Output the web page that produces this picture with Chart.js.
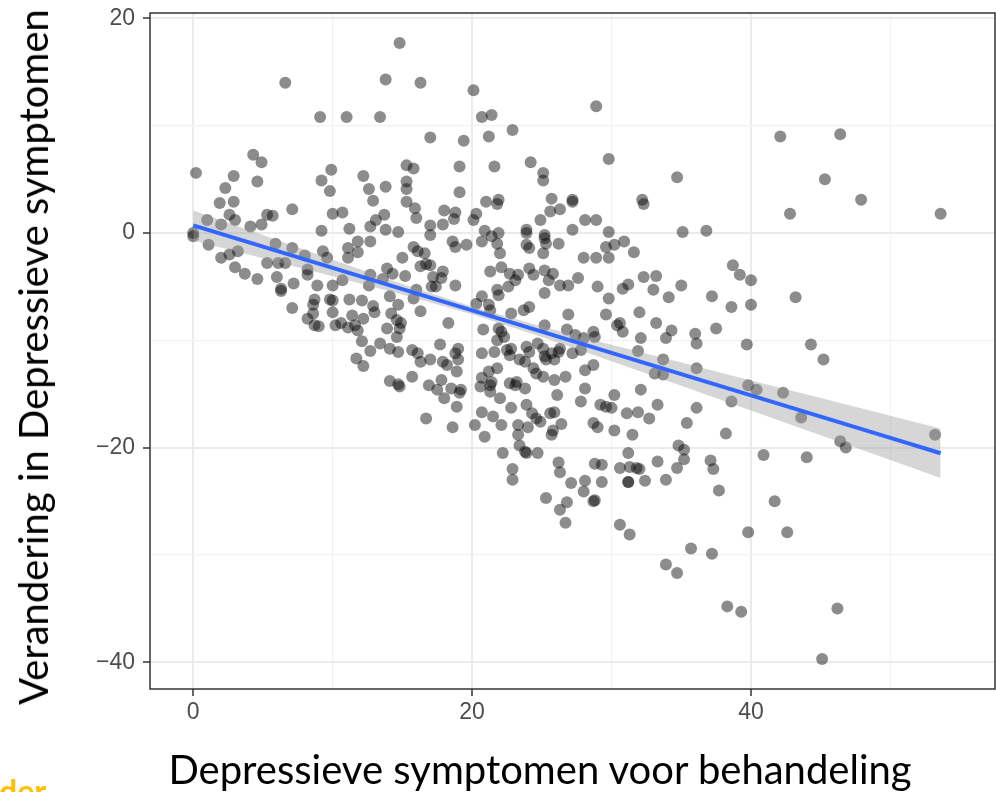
<!DOCTYPE html>
<html lang="nl">
  <head>
    <meta charset="utf-8" />
    <meta name="viewport" content="width=device-width, initial-scale=1" />
    <title>Depressieve symptomen</title>
    <style>
      * {
        margin: 0;
        padding: 0;
      }
      html,
      body {
        width: 996px;
        height: 792px;
        overflow: hidden;
        background: white;
      }
      body {
        position: relative;
        font-family: Lato, "Open Sans", sans-serif;
      }
      .chartBox {
        position: absolute;
        left: 0;
        top: 0;
        width: 996px;
        height: 792px;
      }
      .yTitle {
        position: absolute;
        left: 33px;
        top: 357px;
        transform: translate(-50%, -50%) rotate(-90deg);
        font-size: 40px;
        line-height: 40px;
        white-space: nowrap;
        color: #000;
      }
      .xTitle {
        position: absolute;
        left: 540px;
        top: 749px;
        transform: translateX(-50%);
        font-size: 40px;
        line-height: 40px;
        white-space: nowrap;
        color: #000;
      }
      .tag {
        position: absolute;
        left: -1px;
        top: 775px;
        font-size: 32px;
        line-height: 32px;
        font-weight: bold;
        color: #ffc000;
      }
    </style>
  </head>
  <body>
    <div class="chartBox">
      <canvas id="myChart"></canvas>
    </div>
    <div class="yTitle">Verandering in Depressieve symptomen</div>
    <div class="xTitle">Depressieve symptomen voor behandeling</div>
    <div class="tag">der</div>

    <script src="https://cdn.jsdelivr.net/npm/chart.js@4/dist/chart.umd.min.js"></script>

    <script>
      // data block: score before treatment (x) and change in score (y)
      const preScore = [
        14.8, 6.6, 13.8, 16.3, 9.1, 11.0, 13.4, 17.0, 0.2, 4.3,
        4.9, 2.9, 2.3, 4.6, 1.9, 2.9, 2.6, 1.0, 2.0, 3.0,
        4.1, 4.9, 5.3, 5.7, 7.1, 9.2, 9.9, 9.8, 10.0, 10.7,
        9.2, 11.2, 12.2, 12.6, 13.8, 12.9, 13.7, 13.1, 12.7, 13.8,
        14.7, 15.3, 15.8, 15.3, 15.3, 15.3, 15.9, 16.0, 17.0, 0.0,
        0.0, 20.1, 20.7, 21.4, 19.4, 21.2, 22.9, 28.9, 29.8, 34.7,
        19.1, 21.6, 24.2, 25.1, 25.1, 19.1, 21.0, 21.9, 21.8, 25.7,
        27.2, 27.2, 25.6, 26.3, 32.2, 32.3, 18.0, 18.8, 18.7, 17.9,
        20.3, 20.1, 24.9, 28.1, 28.9, 20.9, 21.9, 23.9, 23.9, 25.2,
        27.2, 29.8, 35.1, 36.8, 42.1, 46.4, 45.3, 47.9, 42.8, 53.6,
        1.1, 2.0, 2.6, 3.2, 3.0, 3.7, 4.6, 5.3, 5.9, 6.1,
        6.6, 6.0, 6.3, 6.3, 7.2, 7.1, 8.0, 8.2, 8.2, 7.1,
        8.9, 9.3, 9.6, 10.0, 8.7, 8.6, 9.8, 10.0, 8.2, 8.6,
        8.7, 9.0, 10.0, 10.2, 10.7, 11.1, 11.8, 11.8, 11.1, 11.2,
        12.1, 11.4, 12.2, 10.6, 11.1, 11.8, 11.6, 12.7, 12.7, 12.6,
        13.6, 13.9, 14.3, 15.2, 12.9, 13.0, 14.1, 14.7, 14.2, 14.6,
        14.9, 14.8, 14.6, 13.9, 12.1, 12.7, 13.4, 14.1, 14.7, 11.7,
        12.2, 15.0, 15.8, 16.1, 16.6, 16.3, 16.7, 17.0, 17.2, 17.4,
        16.0, 15.8, 16.3, 15.7, 16.1, 16.3, 17.0, 14.1, 14.7, 14.8,
        15.7, 16.9, 17.5, 16.7, 18.6, 18.8, 19.6, 20.7, 21.8, 21.4,
        22.0, 23.9, 24.1, 25.1, 25.2, 25.3, 26.2, 28.0, 28.9, 29.8,
        29.6, 30.2, 30.9, 31.6, 17.0, 17.9, 17.8, 17.1, 18.8, 21.3,
        22.1, 22.7, 23.1, 23.3, 21.8, 21.9, 22.6, 20.7, 20.3, 21.2,
        21.3, 24.1, 24.4, 25.2, 25.5, 25.8, 26.3, 26.9, 27.6, 25.2,
        24.1, 23.7, 22.8, 18.3, 20.8, 21.9, 22.1, 22.3, 21.8, 25.2,
        26.9, 26.8, 27.4, 28.0, 28.7, 28.8, 29.0, 29.8, 29.6, 30.4,
        30.6, 30.8, 30.8, 31.2, 32.3, 33.2, 33.0, 34.1, 35.0, 37.2,
        32.0, 33.2, 32.1, 31.9, 33.9, 34.3, 36.0, 36.1, 37.5, 17.7,
        19.0, 18.8, 19.0, 17.9, 18.2, 18.9, 20.7, 21.6, 22.5, 22.8,
        22.7, 23.9, 24.1, 23.4, 23.8, 24.4, 24.7, 25.1, 25.2, 25.3,
        25.9, 26.2, 26.3, 25.7, 27.2, 27.8, 28.1, 28.7, 33.7, 33.1,
        33.7, 36.1, 17.8, 18.0, 18.9, 19.2, 19.1, 18.5, 20.7, 21.2,
        21.4, 20.6, 21.3, 21.3, 22.0, 21.8, 22.7, 23.1, 23.8, 23.2,
        24.6, 25.1, 25.9, 26.7, 26.1, 27.8, 28.1, 29.2, 30.0, 30.2,
        29.6, 31.1, 31.9, 32.1, 32.7, 33.3, 36.1, 35.4, 34.8, 20.7,
        21.5, 22.8, 23.9, 22.1, 23.3, 24.0, 24.3, 24.6, 24.9, 25.6,
        25.9, 26.4, 25.8, 18.6, 20.2, 20.9, 23.3, 23.4, 25.7, 28.7,
        29.0, 30.2, 31.5, 22.2, 23.8, 23.9, 24.7, 22.9, 22.9, 26.2,
        26.3, 27.1, 28.1, 28.0, 28.7, 28.8, 28.8, 29.3, 29.3, 25.3,
        26.3, 26.8, 26.7, 31.2, 30.6, 31.3, 31.8, 32.0, 31.2, 31.2,
        32.4, 33.3, 33.9, 34.7, 35.2, 35.2, 37.1, 37.3, 37.7, 30.6,
        31.3, 33.9, 34.7, 35.7, 37.2, 38.7, 39.2, 40.0, 38.6, 40.0,
        43.2, 39.7, 44.3, 45.2, 39.8, 40.4, 42.3, 38.6, 43.6, 38.2,
        46.4, 46.8, 53.2, 40.9, 44.0, 41.7, 39.8, 42.6, 38.3, 39.3,
        46.2, 45.1,
      ];
      const changeScore = [
        17.7, 14.0, 14.3, 14.0, 10.8, 10.8, 10.8, 8.9, 5.6, 7.3,
        6.6, 5.3, 4.2, 4.8, 2.8, 2.9, 1.7, 1.2, 0.8, 1.2,
        0.6, 0.8, 1.7, 1.6, 2.2, 4.9, 5.9, 3.9, 1.8, 1.9,
        0.2, 0.4, 5.3, 4.1, 4.3, 3.0, 1.7, 1.2, 0.6, 0.3,
        0.1, 6.3, 6.0, 4.8, 4.1, 2.9, 2.3, 1.4, 0.7, 0.0,
        -0.3, 13.3, 10.8, 11.0, 8.6, 9.0, 9.6, 11.8, 6.9, 5.2,
        6.2, 6.2, 6.6, 5.6, 4.9, 3.8, 2.9, 3.1, 2.7, 3.2,
        3.1, 2.9, 2.0, 2.2, 3.1, 2.7, 2.1, 1.9, 1.3, 0.8,
        1.8, 1.2, 1.2, 1.2, 1.2, 0.2, 0.0, 0.3, 0.0, -0.2,
        0.3, 0.1, 0.1, 0.2, 9.0, 9.2, 5.0, 3.1, 1.8, 1.8,
        -1.1, -2.3, -2.0, -1.7, -3.2, -3.8, -4.3, -2.8, -1.0, -2.8,
        -2.8, -4.1, -5.2, -5.4, -4.7, -1.4, -2.1, -3.4, -3.9, -7.0,
        -4.9, -1.7, -2.3, -4.9, -6.2, -6.7, -6.2, -6.3, -8.0, -7.5,
        -8.6, -8.7, -7.4, -8.6, -4.4, -1.4, -0.8, -1.8, -2.3, -6.2,
        -6.3, -7.7, -8.0, -8.4, -8.8, -9.1, -8.6, -0.8, -3.9, -4.9,
        -4.3, -3.3, -3.8, -4.0, -6.8, -7.4, -5.9, -6.7, -7.5, -8.1,
        -8.4, -8.9, -9.7, -8.9, -10.1, -11.0, -10.3, -10.8, -11.1, -11.7,
        -12.4, -2.3, -1.3, -1.7, -1.9, -3.1, -2.9, -0.2, -4.1, -5.0,
        -5.3, -6.1, -7.3, -10.9, -11.2, -12.0, -11.8, -13.8, -14.1, -14.3,
        -13.4, -14.2, -14.6, -17.3, -0.8, -1.3, -1.1, -0.8, -1.0, -0.3,
        -1.9, -1.1, -1.4, -1.9, -0.5, -1.0, -1.0, -2.3, -2.3, -2.3,
        -1.3, -1.1, -0.8, -1.8, -3.0, -3.6, -4.2, -5.0, -4.9, -3.6,
        -3.2, -3.8, -4.4, -3.9, -5.3, -5.8, -5.0, -5.9, -6.6, -6.7,
        -7.2, -3.3, -3.9, -3.5, -4.4, -3.8, -4.9, -4.9, -4.2, -5.6,
        -6.9, -7.2, -7.5, -8.4, -9.0, -8.9, -9.2, -9.7, -10.0, -8.6,
        -7.6, -9.0, -9.5, -9.8, -9.2, -9.7, -5.0, -6.1, -7.6, -8.6,
        -8.4, -9.2, -5.2, -4.8, -4.1, -4.0, -5.3, -6.0, -4.9, -5.9,
        -7.4, -8.4, -9.8, -11.0, -9.8, -9.1, -9.4, -10.3, -8.9, -10.4,
        -10.8, -11.2, -11.8, -12.0, -12.3, -12.9, -11.2, -11.1, -10.9, -10.8,
        -11.4, -10.6, -11.1, -11.8, -12.0, -12.6, -10.3, -10.8, -11.5, -11.8,
        -11.8, -11.1, -10.8, -11.2, -11.2, -10.9, -12.8, -12.3, -11.8, -13.1,
        -13.2, -12.6, -13.7, -15.4, -16.2, -14.6, -14.9, -14.5, -13.5, -12.9,
        -13.9, -14.3, -14.2, -14.8, -15.4, -12.6, -14.0, -14.2, -14.5, -13.9,
        -13.1, -13.4, -13.7, -13.4, -15.1, -15.7, -14.5, -16.0, -16.3, -15.1,
        -16.2, -16.8, -16.7, -14.6, -17.3, -16.0, -16.3, -17.7, -19.8, -16.7,
        -17.1, -16.3, -16.0, -17.9, -17.9, -18.1, -16.8, -17.3, -17.6, -16.8,
        -16.7, -17.8, -18.4, -18.1, -17.9, -19.0, -18.8, -19.8, -18.8, -17.7,
        -18.1, -18.4, -18.8, -20.5, -20.4, -20.5, -20.5, -22.0, -23.0, -21.4,
        -22.3, -23.3, -23.1, -24.1, -25.0, -24.9, -21.5, -21.6, -23.2, -24.7,
        -25.8, -25.1, -27.0, -20.5, -21.9, -21.8, -21.9, -22.0, -23.2, -23.2,
        -23.1, -21.3, -23.0, -21.9, -21.1, -20.2, -21.2, -22.0, -24.0, -27.2,
        -28.1, -30.9, -31.7, -29.4, -29.9, -3.0, -3.9, -4.4, -6.9, -6.7,
        -6.0, -10.4, -10.4, -11.8, -14.2, -14.6, -14.9, -15.7, -17.2, -18.7,
        -19.4, -20.0, -18.8, -20.7, -20.9, -25.0, -27.9, -27.9, -34.8, -35.3,
        -35.0, -39.7,
      ];

      // fitted line with confidence band
      const fitX = [0, 5, 10, 15, 20, 25, 30, 35, 40, 45, 50, 53.6];
      const fitY = [0.7, -1.28, -3.26, -5.24, -7.22, -9.2, -11.18, -13.16, -15.14, -17.12, -19.1, -20.53];
      const bandUpper = [2.1, -0.2, -2.49, -4.75, -6.86, -8.71, -10.41, -12.08, -13.74, -15.39, -17.04, -18.23];
      const bandLower = [-0.7, -2.36, -4.03, -5.73, -7.58, -9.69, -11.95, -14.24, -16.54, -18.85, -21.16, -22.83];

      // tick labels
      const xTicks = [0, 10, 20, 30, 40, 50];
      const yTicks = [-40, -30, -20, -10, 0, 10, 20];
      const xLabelled = [0, 20, 40];
      const yLabelled = [-40, -20, 0, 20];

      const toPoints = (xs, ys) => xs.map((x, i) => ({ x: x, y: ys[i] }));
      const fmt = (v) => (v < 0 ? "\u2212" + Math.abs(v) : String(v));

      const gridOpts = (labelled) => ({
        color: (c) => (c.tick && labelled.includes(c.tick.value) ? "#EBEBEB" : "#F2F2F2"),
        lineWidth: (c) => (c.tick && labelled.includes(c.tick.value) ? 2 : 1.2),
        tickColor: (c) => (c.tick && labelled.includes(c.tick.value) ? "#333333" : "rgba(0,0,0,0)"),
        tickLength: 7,
        tickWidth: 1.5,
      });

      const tickFont = { family: '"Liberation Sans", Arial, sans-serif', size: 23 };

      // labels sit well inside the panel, so drop the edge padding chart.js reserves
      const noEdgePadding = (s) => {
        s.paddingTop = 0;
        s.paddingBottom = 0;
        s.paddingLeft = 0;
        s.paddingRight = 0;
      };

      // panel border plugin block
      const panelBorder = {
        id: "panelBorder",
        afterDatasetsDraw(chart) {
          const {
            ctx,
            chartArea: { left, top, right, bottom },
          } = chart;
          ctx.save();
          ctx.strokeStyle = "#333333";
          ctx.lineWidth = 1.5;
          ctx.strokeRect(left, top, right - left, bottom - top);
          ctx.restore();
        },
      };

      // config block
      const config = {
        type: "scatter",
        data: {
          datasets: [
            {
              type: "line",
              data: toPoints(fitX, fitY),
              borderColor: "#3366FF",
              borderWidth: 4,
              pointRadius: 0,
              fill: false,
              order: 0,
            },
            {
              type: "line",
              data: toPoints(fitX, bandUpper),
              borderColor: "rgba(0,0,0,0)",
              borderWidth: 0,
              pointRadius: 0,
              backgroundColor: "rgba(153,153,153,0.4)",
              fill: "+1",
              order: 1,
            },
            {
              type: "line",
              data: toPoints(fitX, bandLower),
              borderColor: "rgba(0,0,0,0)",
              borderWidth: 0,
              pointRadius: 0,
              fill: false,
              order: 1,
            },
            {
              data: toPoints(preScore, changeScore),
              backgroundColor: "rgba(0,0,0,0.45)",
              borderColor: "rgba(0,0,0,0)",
              borderWidth: 0,
              pointRadius: 6,
              order: 2,
            },
          ],
        },
        options: {
          responsive: true,
          maintainAspectRatio: false,
          animation: false,
          layout: { autoPadding: false, padding: { left: 0, top: 13, right: 1, bottom: 0 } },
          plugins: {
            legend: { display: false },
            tooltip: { enabled: false },
          },
          scales: {
            x: {
              type: "linear",
              min: -3.1,
              max: 57.5,
              afterBuildTicks: (s) => {
                s.ticks = xTicks.map((v) => ({ value: v }));
              },
              afterFit: (s) => {
                s.height = 103;
                noEdgePadding(s);
              },
              border: { display: false },
              grid: gridOpts(xLabelled),
              ticks: {
                autoSkip: false,
                maxRotation: 0,
                padding: 3,
                color: "#4D4D4D",
                font: tickFont,
                callback: (v) => (xLabelled.includes(v) ? fmt(v) : ""),
              },
            },
            y: {
              type: "linear",
              min: -42.5,
              max: 20.5,
              afterBuildTicks: (s) => {
                s.ticks = yTicks.map((v) => ({ value: v }));
              },
              afterFit: (s) => {
                s.width = 150;
                noEdgePadding(s);
              },
              border: { display: false },
              grid: gridOpts(yLabelled),
              ticks: {
                autoSkip: false,
                padding: 8,
                color: "#4D4D4D",
                font: tickFont,
                callback: (v) => (yLabelled.includes(v) ? fmt(v) : ""),
              },
            },
          },
        },
        plugins: [panelBorder],
      };

      // init render block
      const myChart = new Chart(document.getElementById("myChart"), config);
    </script>
  </body>
</html>
